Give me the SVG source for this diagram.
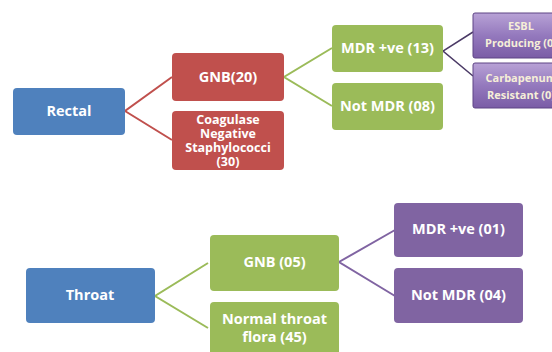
<svg xmlns="http://www.w3.org/2000/svg" width="552" height="352" viewBox="0 0 552 352">
<defs>
<linearGradient id="pg" x1="0" y1="0" x2="0" y2="1">
<stop offset="0" stop-color="#b8a2d6"/>
<stop offset="0.5" stop-color="#9479bd"/>
<stop offset="1" stop-color="#7a5ca6"/>
</linearGradient>
<style>
text{font-family:"Open Sans","Liberation Sans",sans-serif;font-weight:bold;fill:#ffffff;text-anchor:middle}
.t{font-size:14.5px}
.s{font-size:12.5px}
.x{font-size:11px;fill:#f6efd8}
.blue{fill:#4f81bd}
.red{fill:#c0504d}
.green{fill:#9bbb59}
.purple{fill:#8064a2}
.lp{fill:url(#pg);stroke:#5f4585;stroke-width:1}
.lr{stroke:#c0504d;stroke-width:2;fill:none}
.lg{stroke:#9bbb59;stroke-width:2;fill:none}
.lv{stroke:#8064a2;stroke-width:2;fill:none}
.ld{stroke:#4b3a66;stroke-width:1.5;fill:none}
</style>
</defs>
<rect width="552" height="352" fill="#ffffff"/>
<g id="connectors">
<polyline class="lr" points="172,77 125,111 172,140"/>
<polyline class="lg" points="332,48 284,77 332,106"/>
<polyline class="ld" points="473,32 443,51 473,76"/>
<polyline class="lg" points="208,263 155,296 208,328"/>
<polyline class="lv" points="395,230 339,262 395,296"/>
</g>
<g id="rectal"><rect class="blue" x="13" y="88" width="112" height="47" rx="4"/><text class="t" x="69" y="116">Rectal</text></g>
<g id="gnb20"><rect class="red" x="172" y="53" width="112" height="48" rx="4"/><text class="t" x="228" y="82">GNB(20)</text></g>
<g id="cons"><rect class="red" x="172" y="111" width="112" height="59" rx="4"/>
<text class="s" x="228" y="123.5">Coagulase</text><text class="s" x="228" y="137.5">Negative</text><text class="s" x="228" y="151.5">Staphylococci</text><text class="s" x="228" y="165.5">(30)</text></g>
<g id="mdr13"><rect class="green" x="332" y="25" width="111" height="47" rx="4"/><text class="t" x="387.5" y="53">MDR +ve (13)</text></g>
<g id="notmdr08"><rect class="green" x="332" y="83" width="111" height="47" rx="4"/><text class="t" x="387.5" y="111">Not MDR  (08)</text></g>
<g id="esbl"><rect class="lp" x="473" y="13" width="96" height="45" rx="2"/><text class="x" x="521" y="30">ESBL</text><text class="x" x="521" y="47">Producing (0)</text></g>
<g id="carba"><rect class="lp" x="473" y="63" width="96" height="45" rx="2"/><text class="x" x="521" y="82">Carbapenum</text><text class="x" x="521" y="99">Resistant (0)</text></g>
<g id="throat"><rect class="blue" x="26" y="268" width="129" height="55" rx="4"/><text class="t" x="90" y="300">Throat</text></g>
<g id="gnb05"><rect class="green" x="210" y="235" width="129" height="56" rx="4"/><text class="t" x="274.5" y="267">GNB (05)</text></g>
<g id="normal"><rect class="green" x="210" y="302" width="129" height="56" rx="4"/><text class="t" x="274.5" y="324">Normal throat</text><text class="t" x="274.5" y="342">flora (45)</text></g>
<g id="mdr01"><rect class="purple" x="394" y="203" width="129" height="54" rx="4"/><text class="t" x="458.5" y="234">MDR +ve (01)</text></g>
<g id="notmdr04"><rect class="purple" x="394" y="268" width="129" height="55" rx="4"/><text class="t" x="458.5" y="300">Not MDR  (04)</text></g>
</svg>
